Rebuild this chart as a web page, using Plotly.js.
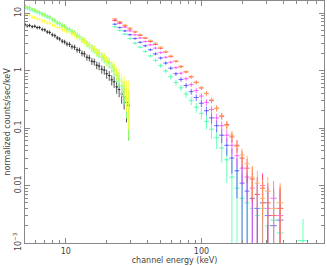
<!DOCTYPE html>
<html>
<head>
<meta charset="utf-8">
<script src="https://cdn.plot.ly/plotly-3.0.1.min.js"></script>
<style>html,body{margin:0;padding:0;background:#fff;}#chart{width:327px;height:266px;}</style>
</head>
<body>
<div id="chart"></div>
<script>
// ---- low-energy group (channel energy, keV) ----
const xLow = [5.0, 5.2, 5.4, 5.65, 5.9, 6.15, 6.4, 6.7, 7.0, 7.3, 7.6, 7.95, 8.3, 8.65, 9.0, 9.4, 9.8, 10.2, 10.65, 11.1, 11.6, 12.1, 12.6, 13.15, 13.7, 14.3, 14.9, 15.55, 16.2, 16.9, 17.6, 18.4, 19.2, 20.0, 20.9, 21.8, 22.7, 23.7, 24.7, 25.8, 26.9, 28.0, 29.0];
const yBlack = [6.3, 6.0, 6.1, 5.8, 5.9, 5.6, 5.6, 5.2, 5.1, 4.7, 4.6, 4.2, 4.05, 3.7, 3.55, 3.25, 3.15, 2.9, 2.85, 2.6, 2.55, 2.3, 2.25, 2.0, 1.95, 1.7, 1.66, 1.45, 1.42, 1.24, 1.2, 1.05, 1.02, 0.88, 0.82, 0.69, 0.64, 0.52, 0.47, 0.39, 0.35, 0.28, 0.25];
const yYellow = [9.6, 9.3, 9.1, 8.5, 8.4, 7.9, 7.8, 7.3, 7.2, 6.7, 6.7, 6.2, 6.1, 5.7, 5.6, 5.2, 5.1, 4.7, 4.7, 4.3, 4.2, 3.8, 3.7, 3.35, 3.25, 2.9, 2.8, 2.5, 2.4, 2.1, 2.05, 1.8, 1.75, 1.52, 1.45, 1.24, 1.15, 0.94, 0.85, 0.65, 0.57, 0.43, 0.38];
const yChart = [13.0, 12.4, 12.1, 11.5, 11.1, 10.5, 10.1, 9.5, 9.2, 8.6, 8.4, 7.7, 7.4, 6.8, 6.6, 6.0, 5.9, 5.3, 5.2, 4.7, 4.6, 4.05, 3.9, 3.45, 3.3, 2.95, 2.8, 2.45, 2.35, 2.05, 2.0, 1.72, 1.65, 1.45, 1.36, 1.14, 1.05, 0.84, 0.72, 0.54, 0.46, 0.33, 0.26];
const yGreen = [13.4, 12.7, 12.5, 11.7, 11.4, 10.8, 10.4, 9.7, 9.4, 8.8, 8.6, 7.8, 7.5, 6.9, 6.6, 6.1, 5.9, 5.4, 5.2, 4.8, 4.55, 4.1, 3.9, 3.5, 3.3, 2.95, 2.8, 2.5, 2.35, 2.1, 1.98, 1.78, 1.65, 1.48, 1.38, 1.18, 1.05, 0.84, 0.72, 0.54, 0.46, 0.32, 0.24];
const yCyan = [12.2, 12.0, 11.5, 11.2, 10.6, 10.3, 9.8, 9.5, 8.9, 8.6, 8.1, 7.7, 7.2, 6.8, 6.4, 6.0, 5.7, 5.3, 5.0, 4.7, 4.4, 4.05, 3.75, 3.45, 3.2, 2.9, 2.7, 2.45, 2.25, 2.05, 1.9, 1.72, 1.58, 1.45, 1.3, 1.15, 0.98, 0.82, 0.66, 0.52, 0.42, 0.33, 0.27];
const relErrLow = [0.07, 0.07, 0.07, 0.07, 0.07, 0.07, 0.07, 0.075, 0.075, 0.075, 0.08, 0.08, 0.08, 0.085, 0.085, 0.09, 0.09, 0.095, 0.1, 0.1, 0.105, 0.11, 0.11, 0.115, 0.12, 0.125, 0.13, 0.135, 0.14, 0.15, 0.155, 0.16, 0.17, 0.18, 0.19, 0.2, 0.22, 0.24, 0.27, 0.32, 0.4, 0.55, 0.75];

// ---- high-energy group ----
const xHigh = [23, 25, 27.3, 29.7, 32.4, 35.3, 38.5, 42, 45.8, 50, 54.5, 59.4, 64.8, 70.6, 77, 84, 91.5, 99.8, 108.8, 118.6, 129.3, 141, 153.7, 167.6, 182.7, 199.2, 217, 237, 258, 282, 308, 340, 380, 560];
const yOrange = [8.0, 7.1, 6.2, 5.5, 4.8, 4.25, 3.75, 3.35, 3.0, 2.55, 2.15, 1.8, 1.45, 1.15, 0.95, 0.77, 0.63, 0.5, 0.4, 0.31, 0.22, 0.165, 0.11, 0.075, 0.048, 0.034, 0.024, 0.014, 0.011, 0.006, 0.008, 0.004, 0.005, null];
const yRed = [7.4, 6.8, 6.0, 5.3, 4.7, 4.1, 3.65, 3.2, 2.85, 2.45, 2.1, 1.75, 1.45, 1.18, 0.95, 0.78, 0.62, 0.5, 0.4, 0.3, 0.22, 0.16, 0.115, 0.07, 0.05, 0.03, 0.02, 0.013, 0.007, 0.009, 0.005, 0.003, 0.004, null];
const yMagenta = [7.6, 6.6, 5.7, 4.9, 4.2, 3.7, 3.2, 2.8, 2.45, 2.05, 1.7, 1.4, 1.12, 0.9, 0.72, 0.57, 0.45, 0.36, 0.28, 0.21, 0.15, 0.11, 0.075, 0.05, 0.033, 0.02, 0.014, 0.009, 0.007, 0.01, 0.004, 0.006, 0.003, null];
const yBlue = [6.4, 5.6, 4.9, 4.2, 3.6, 3.1, 2.7, 2.3, 1.95, 1.65, 1.35, 1.1, 0.88, 0.7, 0.55, 0.43, 0.34, 0.27, 0.2, 0.15, 0.11, 0.075, 0.05, 0.03, 0.018, 0.011, 0.008, 0.006, 0.004, 0.005, 0.003, 0.002, 0.0025, null];
const yAqua = [5.8, 5.0, 4.3, 3.6, 3.0, 2.55, 2.15, 1.8, 1.5, 1.22, 0.98, 0.78, 0.62, 0.5, 0.39, 0.3, 0.23, 0.18, 0.13, 0.095, 0.068, 0.045, 0.028, 0.014, 0.009, 0.006, 0.005, 0.004, 0.003, 0.004, 0.002, 0.0025, 0.0015, 0.0011];
const errHigh = [0.25, 0.22, 0.2, 0.18, 0.16, 0.14, 0.13, 0.12, 0.11, 0.1, 0.09, 0.08, 0.07, 0.06, 0.055, 0.05, 0.045, 0.04, 0.035, 0.03, 0.025, 0.02, 0.017, 0.014, 0.012, 0.01, 0.009, 0.008, 0.007, 0.0065, 0.006, 0.006, 0.006, 0.0015];
const xHalfWidthHigh = [0.042, 0.042, 0.042, 0.042, 0.042, 0.042, 0.042, 0.042, 0.042, 0.042, 0.042, 0.042, 0.042, 0.042, 0.042, 0.042, 0.042, 0.042, 0.042, 0.042, 0.042, 0.042, 0.042, 0.042, 0.042, 0.042, 0.042, 0.042, 0.042, 0.045, 0.05, 0.055, 0.06, 0.09];

const yTickVals = [0.001, 0.01, 0.1, 1, 10];
const yTickText = ['10<sup>\u22123</sup>', '0.01', '0.1', '1', '10'];
const xTickVals = [10, 100];
const xTickText = ['10', '100'];

function minorTicks(lo, hi) {
  const out = [];
  for (let e = -4; e <= 3; e++) for (let m = 2; m <= 9; m++) {
    const v = m * Math.pow(10, e);
    if (v >= lo && v <= hi) out.push(v);
  }
  return out;
}

function lowSeries(y, color) {
  return {
    type: 'scatter', mode: 'markers', x: xLow, y: y, hoverinfo: 'skip',
    marker: {size: 1.5, color: color},
    error_y: {type: 'data', array: y.map((v, i) => v * relErrLow[i]), color: color, thickness: 1, width: 0},
    error_x: {type: 'percent', value: 2.2, color: color, thickness: 1, width: 0}
  };
}
function highSeries(y, color) {
  return {
    type: 'scatter', mode: 'markers', x: xHigh, y: y, hoverinfo: 'skip',
    marker: {size: 1.5, color: color},
    error_y: {type: 'data', array: errHigh, color: color, thickness: 1, width: 0},
    error_x: {type: 'data', array: xHigh.map((v, i) => v * xHalfWidthHigh[i]), color: color, thickness: 1, width: 0}
  };
}

const traces = [
  highSeries(yAqua, 'rgba(70,255,170,0.8)'),
  highSeries(yBlue, 'rgba(80,80,255,0.8)'),
  highSeries(yMagenta, 'rgba(255,80,255,0.8)'),
  highSeries(yRed, 'rgba(255,70,70,0.8)'),
  highSeries(yOrange, 'rgba(255,165,90,0.8)'),
  lowSeries(yBlack, 'rgba(40,40,40,0.8)'),
  lowSeries(yGreen, 'rgba(90,255,90,0.7)'),
  lowSeries(yCyan, 'rgba(90,255,255,0.7)'),
  lowSeries(yChart, 'rgba(170,255,70,0.7)'),
  lowSeries(yYellow, 'rgba(255,255,50,0.8)')
];

const axisCommon = {
  type: 'log', showgrid: false, zeroline: false, showline: true, linecolor: '#888', linewidth: 1,
  mirror: 'allticks', ticks: 'inside', ticklen: 5, tickwidth: 1, tickcolor: '#888',
  tickfont: {family: 'DejaVu Sans', size: 8, color: '#444'}
};

const layout = {
  width: 327, height: 266,
  margin: {l: 25, r: 3, t: 1, b: 23},
  paper_bgcolor: '#fff', plot_bgcolor: '#fff',
  showlegend: false,
  xaxis: Object.assign({}, axisCommon, {
    range: [Math.log10(5), Math.log10(800)],
    tickvals: xTickVals, ticktext: xTickText,
    minor: {ticks: 'inside', ticklen: 3, tickcolor: '#888', tickvals: minorTicks(5, 800), showgrid: false},
    title: {text: 'channel energy (keV)', font: {family: 'DejaVu Sans', size: 8, color: '#444'}, standoff: 2}
  }),
  yaxis: Object.assign({}, axisCommon, {
    range: [-3, 1.21],
    tickvals: yTickVals, ticktext: yTickText, tickangle: -90,
    minor: {ticks: 'inside', ticklen: 3, tickcolor: '#888', tickvals: minorTicks(0.001, 16.3), showgrid: false},
    title: {text: 'normalized counts/sec/keV', font: {family: 'DejaVu Sans', size: 8, color: '#444'}, standoff: 0}
  })
};

Plotly.newPlot('chart', traces, layout, {displayModeBar: false, staticPlot: true});
</script>
</body>
</html>
